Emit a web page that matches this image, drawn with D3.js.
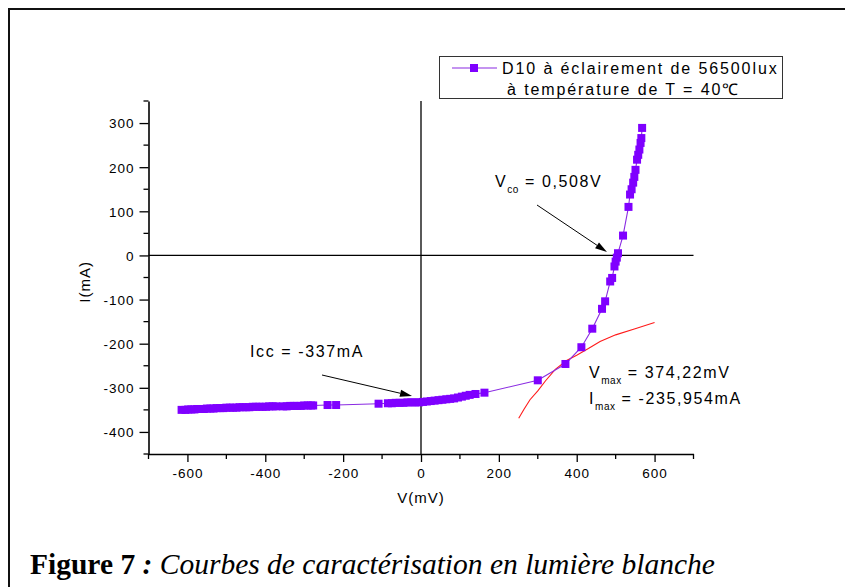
<!DOCTYPE html>
<html>
<head>
<meta charset="utf-8">
<script src="https://cdn.jsdelivr.net/npm/d3@7"></script>
<style>
  body { margin: 0; background: #fff; }
  svg text { font-family: Arial, "Liberation Sans", sans-serif; fill: #000; }
</style>
</head>
<body>
<div id="chart"></div>
<script>
// measured points, V in mV and I in mA
var voltage = [-615, -605, -598, -590, -582, -575, -566, -558, -550, -541, -533, -525, -516, -508, -500,
  -491, -483, -474, -466, -458, -449, -441, -432, -424, -415, -407, -398, -390, -381, -372,
  -354, -345, -336, -327, -318, -309, -300, -291, -282, -277, -240, -218, -109,
  -85, -75, -65, -55, -45, -35, -25, -15, -5, 5, 15, 25, 35, 45, 55, 65, 75, 85, 95, 105, 115, 125, 140, 163,
  300, 371, 412, 440, 465, 473, 486, 491, 497, 500, 503, 506, 519, 533, 537, 541, 545, 548, 551, 555, 558, 561, 564, 566, 568];
var current = [-350, -350, -349, -349, -349, -348, -348, -348, -347, -347, -347, -346, -346, -346, -345,
  -345, -345, -345, -344, -344, -344, -344, -343, -343, -343, -343, -343, -342, -342, -342,
  -342, -342, -341, -341, -341, -341, -340, -340, -340, -340, -339, -339, -336,
  -335, -335, -334, -334, -334, -333, -333, -333, -333, -332, -331, -330, -329, -328, -327, -326, -325, -324, -322, -320, -318, -316, -314, -311,
  -283, -246, -208, -166, -121, -104, -59, -51, -25, -14, -5, 5, 45, 110, 138, 150, 165, 178, 194, 217, 228, 240, 255, 266, 289];

// red power curve
var powerV = [251, 265, 280, 300, 320, 345, 374, 400, 430, 460, 500, 550, 600];
var powerI = [-369, -348, -327, -307, -284, -258, -238, -226, -211, -195, -180, -166, -152];

var xTicks = [-600, -400, -200, 0, 200, 400, 600];
var yTicks = [-400, -300, -200, -100, 0, 100, 200, 300];

var legendLine1 = "D10 à éclairement de 56500lux";
var legendLine2 = "à température de T = 40\u2103";

var W = 845, H = 587;
var margin = { left: 148.5, right: 151.5, top: 101, bottom: 133 };
var width = W - margin.left - margin.right,
  height = H - margin.top - margin.bottom;

var svg = d3.select("#chart").append("svg")
  .attr("width", W)
  .attr("height", H);

// outer frame (only top and left edges visible)
svg.append("path")
  .attr("d", "M9,587 V9 H845")
  .attr("fill", "none")
  .attr("stroke", "#111")
  .attr("stroke-width", 2);

var g = svg.append("g")
  .attr("transform", "translate(" + margin.left + "," + margin.top + ")");

var x = d3.scaleLinear().domain([-700, 700]).range([0, width]);
var y = d3.scaleLinear().domain([-450, 350]).range([height, 0]);

// minor ticks
var xMinor = d3.range(-700, 701, 100).filter(function (d) { return xTicks.indexOf(d) < 0; });
var yMinor = d3.range(-450, 351, 50).filter(function (d) { return yTicks.indexOf(d) < 0; });

g.selectAll("line.xminor").data(xMinor).enter().append("line")
  .attr("x1", function (d) { return x(d); })
  .attr("x2", function (d) { return x(d); })
  .attr("y1", height).attr("y2", height + 5)
  .attr("stroke", "#000").attr("stroke-width", 1.3);
g.selectAll("line.yminor").data(yMinor).enter().append("line")
  .attr("y1", function (d) { return y(d); })
  .attr("y2", function (d) { return y(d); })
  .attr("x1", 0).attr("x2", -5)
  .attr("stroke", "#000").attr("stroke-width", 1.3);

// axes (plain hyphen for negatives, like the original)
var plain = function (d) { return String(d); };
var xAxis = g.append("g")
  .attr("transform", "translate(0," + height + ")")
  .call(d3.axisBottom(x).tickValues(xTicks).tickFormat(plain).tickSize(8).tickSizeOuter(0).tickPadding(6));
var yAxis = g.append("g")
  .call(d3.axisLeft(y).tickValues(yTicks).tickFormat(plain).tickSize(9).tickSizeOuter(0).tickPadding(5));

[xAxis, yAxis].forEach(function (a) {
  a.select(".domain").attr("stroke", "#000").attr("stroke-width", 1.6);
  a.selectAll(".tick line").attr("stroke", "#000").attr("stroke-width", 1.3);
  a.selectAll(".tick text")
    .style("font-family", "Arial, 'Liberation Sans', sans-serif")
    .style("font-size", "13.5px")
    .style("letter-spacing", "1px")
    .attr("fill", "#111");
});
yAxis.selectAll(".tick text").attr("dy", "0.36em");

// zero lines
g.append("line")
  .attr("x1", x(0)).attr("x2", x(0))
  .attr("y1", 0).attr("y2", height)
  .attr("stroke", "#000").attr("stroke-width", 1.3);
g.append("line")
  .attr("x1", 0).attr("x2", width)
  .attr("y1", y(0)).attr("y2", y(0))
  .attr("stroke", "#000").attr("stroke-width", 1.3);

// axis titles
svg.append("text")
  .attr("x", margin.left + x(0))
  .attr("y", 503)
  .attr("text-anchor", "middle")
  .style("font-size", "15px")
  .style("letter-spacing", "1px")
  .text("V(mV)");
svg.append("text")
  .attr("transform", "translate(90," + (margin.top + y(-60)) + ") rotate(-90)")
  .attr("text-anchor", "middle")
  .style("font-size", "15px")
  .style("letter-spacing", "1px")
  .text("I(mA)");

// red curve
var pts = powerV.map(function (v, i) { return [v, powerI[i]]; });
g.append("path")
  .datum(pts)
  .attr("fill", "none")
  .attr("stroke", "#ff1a1a")
  .attr("stroke-width", 1.1)
  .attr("d", d3.line()
    .x(function (d) { return x(d[0]); })
    .y(function (d) { return y(d[1]); }));

// measured series
var data = voltage.map(function (v, i) { return { v: v, i: current[i] }; });
g.append("path")
  .datum(data)
  .attr("fill", "none")
  .attr("stroke", "#8a2be2")
  .attr("stroke-width", 1.1)
  .attr("d", d3.line()
    .x(function (d) { return x(d.v); })
    .y(function (d) { return y(d.i); }));

var ms = 8;
g.selectAll("rect.pt")
  .data(data)
  .enter()
  .append("rect")
  .attr("class", "pt")
  .attr("x", function (d) { return x(d.v) - ms / 2; })
  .attr("y", function (d) { return y(d.i) - ms / 2; })
  .attr("width", ms)
  .attr("height", ms)
  .attr("fill", "#7f00ff");

// annotations
function arrow(x1, y1, x2, y2) {
  var ang = Math.atan2(y2 - y1, x2 - x1);
  var len = 12, w = 3.5;
  var bx = x2 - len * Math.cos(ang), by = y2 - len * Math.sin(ang);
  svg.append("line")
    .attr("x1", x1).attr("y1", y1).attr("x2", bx).attr("y2", by)
    .attr("stroke", "#000").attr("stroke-width", 1);
  svg.append("path")
    .attr("d", "M" + x2 + "," + y2 +
      "L" + (bx + w * Math.sin(ang)) + "," + (by - w * Math.cos(ang)) +
      "L" + (bx - w * Math.sin(ang)) + "," + (by + w * Math.cos(ang)) + "Z")
    .attr("fill", "#000");
}

function subLabel(px, py, main, sub, rest) {
  var t = svg.append("text")
    .attr("x", px).attr("y", py)
    .style("font-size", "16px")
    .style("letter-spacing", "1.6px");
  t.append("tspan").text(main);
  t.append("tspan")
    .attr("dy", 6)
    .style("font-size", "10px")
    .style("letter-spacing", "0.5px")
    .text(sub);
  t.append("tspan")
    .attr("dy", -6)
    .text(" " + rest);
}

subLabel(495, 187, "V", "co", "= 0,508V");
arrow(537, 205, 607, 252);

svg.append("text")
  .attr("x", 250).attr("y", 357)
  .style("font-size", "16px")
  .style("letter-spacing", "1.6px")
  .text("Icc = -337mA");
arrow(322, 375, 412, 396);

subLabel(589, 378, "V", "max", "= 374,22mV");
subLabel(589, 404, "I", "max", "= -235,954mA");

// legend
svg.append("rect")
  .attr("x", 439.5).attr("y", 56.5)
  .attr("width", 343).attr("height", 42)
  .attr("fill", "#fff")
  .attr("stroke", "#333")
  .attr("stroke-width", 1);
svg.append("line")
  .attr("x1", 452).attr("x2", 497)
  .attr("y1", 68).attr("y2", 68)
  .attr("stroke", "#8a2be2").attr("stroke-width", 1.1);
svg.append("rect")
  .attr("x", 470).attr("y", 64)
  .attr("width", ms).attr("height", ms)
  .attr("fill", "#7f00ff");
svg.append("text")
  .attr("x", 502).attr("y", 74)
  .style("font-size", "16px")
  .style("letter-spacing", "1.9px")
  .text(legendLine1);
svg.append("text")
  .attr("x", 507).attr("y", 95)
  .style("font-size", "16px")
  .style("letter-spacing", "1.9px")
  .text(legendLine2);

// caption
var cap = svg.append("text")
  .attr("x", 30).attr("y", 574)
  .style("font-family", "'Liberation Serif', 'Times New Roman', serif")
  .style("font-size", "29.5px");
cap.append("tspan").style("font-weight", "bold").text("Figure 7 ");
cap.append("tspan").style("font-weight", "bold").style("font-style", "italic").text(": ");
cap.append("tspan").style("font-style", "italic").text("Courbes de caractérisation en lumière blanche");
</script>
</body>
</html>
